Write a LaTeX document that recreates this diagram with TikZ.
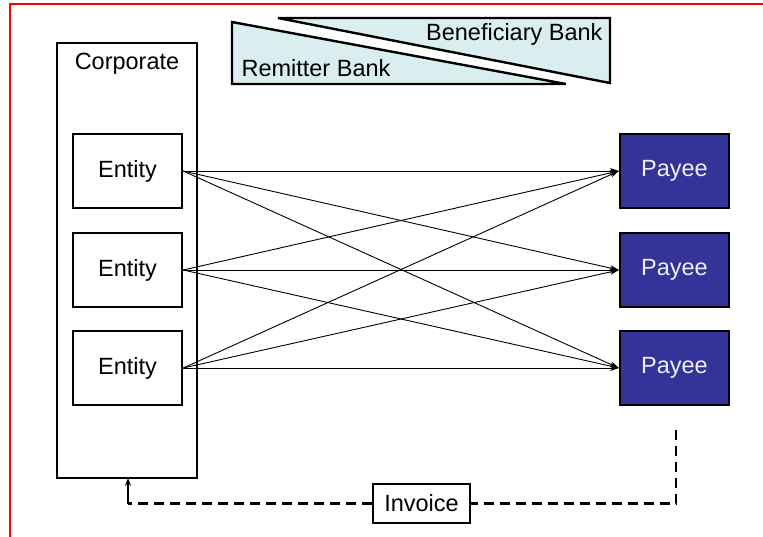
\documentclass[tikz,border=0pt]{standalone}
\usepackage{fontspec}
\setmainfont{Liberation Sans}
\usepackage{tikz}
\usetikzlibrary{arrows.meta}

\definecolor{payeeblue}{HTML}{333399}
\definecolor{bankfill}{HTML}{DAEEF0}

\begin{document}
\begin{tikzpicture}[x=1pt,y=-1pt,
  lbl/.style={font=\fontsize{23.5}{26}\selectfont},
  box/.style={draw,line width=2.4pt,minimum width=109pt,minimum height=74pt,inner sep=0pt,lbl},
  payee/.style={box,fill=payeeblue,text=white!92!payeeblue},
  flow/.style={-{Stealth[length=9pt,width=6pt]},line width=0.9pt},
  ret/.style={line width=2.6pt,dash pattern=on 10pt off 6pt}]
\useasboundingbox (0,0) rectangle (763,536);
\draw[red,line width=2.6pt] (10,540) -- (10,4) -- (770,4);
% banks
\draw[line width=2.4pt,fill=bankfill] (232,22) -- (566,84) -- (232,84) -- cycle;
\draw[line width=2.4pt,fill=bankfill] (278,18) -- (610,18) -- (610,83) -- cycle;
\node[anchor=east,lbl] (bene) at (606,34) {Beneficiary Bank};
\node[anchor=west,lbl] (remit) at (238,68) {Remitter Bank};
% corporate
\draw[line width=2.4pt] (57,43) rectangle (197,478);
\node[lbl] (corp) at (127,64) {Corporate};
\coordinate (corpb) at (128,478);
\foreach \i/\y in {1/171,2/270,3/368} {
  \node[box] (e\i) at (127.5,\y) {\raisebox{-2pt}{Entity}};
  \node[payee] (p\i) at (674.5,\y) {\raisebox{-2pt}{Payee}};
}
\foreach \i in {1,2,3}
  \foreach \j in {1,2,3}
    \draw[flow] (e\i.east) -- (p\j.west);
% invoice loop
\node[draw,line width=2.4pt,inner sep=4pt,minimum width=97pt,minimum height=39pt,lbl] (inv) at (421.5,503.5) {Invoice};
\coordinate (c1) at (676,430);
\coordinate (c2) at (676,503.5);
\coordinate (c3) at (128,503.5);
\draw[ret] (c1) -- (c2) -- (inv.east);
\draw[ret] (inv.west) -- (c3);
\draw[-{Stealth[length=8pt,width=6pt]},line width=2.4pt] (c3) -- (corpb);
\end{tikzpicture}
\end{document}
